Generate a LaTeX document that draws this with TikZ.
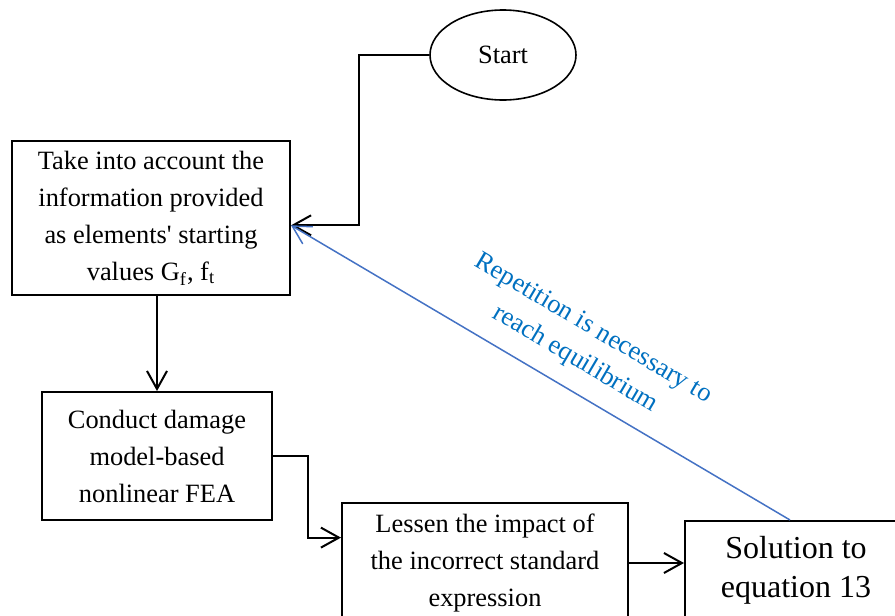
\documentclass[tikz,border=0pt]{standalone}
\usepackage{fontspec}
\setmainfont{Liberation Serif}
\usetikzlibrary{shapes.geometric, arrows.meta}
\definecolor{loopline}{HTML}{4472C4}
\definecolor{looptext}{HTML}{0070C0}

\begin{document}
\begin{tikzpicture}[x=0.5pt, y=-0.5pt]
\tikzstyle{oval}=[ellipse, text centered, draw=black, line width=0.8pt, fill=white, minimum width=73pt, minimum height=45pt, inner sep=0pt, font=\fontsize{13.2}{18.5}\selectfont]
\tikzstyle{box}=[rectangle, align=center, draw=black, line width=1pt, fill=white, inner sep=0pt, font=\fontsize{13.2}{18.5}\selectfont]
\tikzstyle{arrow}=[line width=1pt, -{Straight Barb[length=9pt, width=10pt]}]
\tikzstyle{back}=[line width=0.75pt, draw=loopline, -{Straight Barb[length=9pt, width=10pt]}]
\useasboundingbox (0,0) rectangle (895,616);
\clip (0,0) rectangle (895,616);
\node[oval] (st) at (503,55) {Start};
\node[box, minimum width=139pt, minimum height=77pt] (b1) at (151,218) {Take into account the\\information provided\\as elements\textquotesingle{} starting\\values G\textsubscript{f}, f\textsubscript{t}};
\node[box, minimum width=115pt, minimum height=64pt] (b2) at (157,456) {Conduct damage\\model-based\\nonlinear FEA};
\node[box, minimum width=143pt, minimum height=60pt] (b3) at (485,563) {Lessen the impact of\\the incorrect standard\\expression};
\node[box, minimum width=111pt, minimum height=49pt, font=\fontsize{16}{19.5}\selectfont] (b4) at (796,570) {Solution to\\equation 13};
\draw[arrow] (st.west) -- ++(-70,0) |- (b1.-3.7);
\draw[arrow] (b2.north |- b1.south) -- (b2.north);
\draw[arrow] (b2.east) -- ++(35,0) |- (b3.170);
\draw[arrow] (b3.east) -- (b4.west |- b3.east);
\draw[back] ([xshift=-3pt]b4.north) -- node[pos=0.46, sloped, above=5pt, align=center, text=looptext, font=\fontsize{13.2}{17.5}\selectfont] {Repetition is necessary to\\reach equilibrium} (b1.-3.7);
\end{tikzpicture}
\end{document}
